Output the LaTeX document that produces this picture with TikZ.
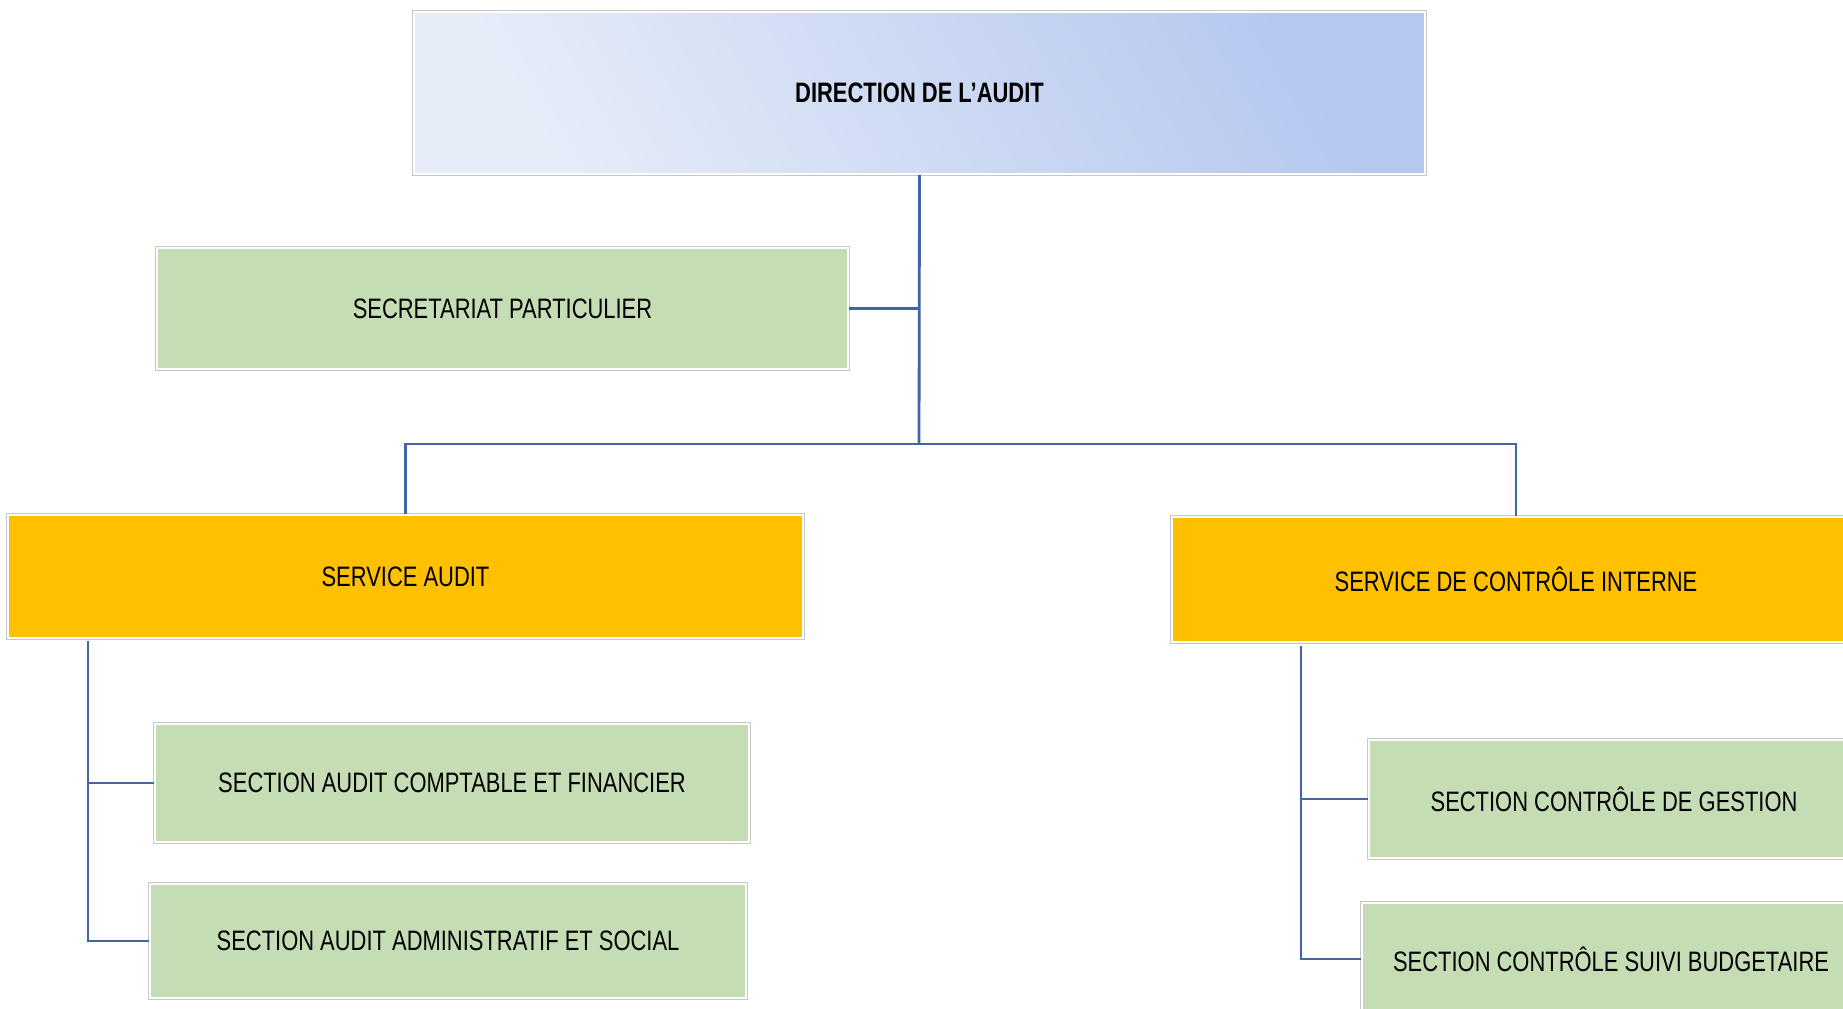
\documentclass[tikz,border=0pt]{standalone}
\usepackage{fontspec}
\newfontfamily\narrowfont[FakeStretch=0.78]{Liberation Sans}
\definecolor{dirlight}{HTML}{E6ECF8}
\definecolor{dirdark}{HTML}{B5C8EF}
\definecolor{secgreen}{HTML}{C5DDB5}
\definecolor{servorange}{HTML}{FFC000}
\definecolor{linkblue}{HTML}{4464A6}
\begin{document}
\begin{tikzpicture}[x=.2mm,y=-.2mm,
  box/.style={rectangle,inner sep=0pt,draw=white,line width=1.1pt,preaction={draw=black!22,line width=2.4pt},font=\narrowfont\fontsize{16}{19}\selectfont,text=black},
  link/.style={draw=linkblue,line width=1.6pt}]
\useasboundingbox (0,0) rectangle (1843,1008);
\clip (0,0) rectangle (1843,1008);
\def\spinel{88};\def\spiner{1301};\def\bary{444};

\coordinate (c_dir) at (919.5,93);
\coordinate (c_sec) at (502.5,308.5);
\coordinate (c_sa) at (405.5,576.5);
\coordinate (c_sci) at (1516,579.5);
\coordinate (c_sa_1) at (452,783);
\coordinate (c_sa_2) at (448,941);
\coordinate (c_sci_1) at (1614,799);
\coordinate (c_sci_2) at (1611,959);

\coordinate (bar) at (919,\bary);
\coordinate (spine_l) at (\spinel,641);
\coordinate (spine_r) at (\spiner,646);

\node[box,left color=dirlight,right color=dirdark,shading angle=120,minimum width=20.22cm,minimum height=3.24cm,font=\narrowfont\bfseries\fontsize{16}{19}\selectfont] (dir) at (c_dir) {DIRECTION DE L’AUDIT};
\node[box,fill=secgreen,minimum width=13.82cm,minimum height=2.42cm] (sec) at (c_sec) {SECRETARIAT  PARTICULIER};
\node[box,fill=servorange,minimum width=15.9cm,minimum height=2.46cm] (sa) at (c_sa) {SERVICE  AUDIT};
\node[box,fill=servorange,minimum width=13.76cm,minimum height=2.5cm] (sci) at (c_sci) {SERVICE  DE CONTRÔLE INTERNE};
\node[box,fill=secgreen,minimum width=11.88cm,minimum height=2.36cm] (sa_1) at (c_sa_1) {SECTION AUDIT  COMPTABLE ET FINANCIER};
\node[box,fill=secgreen,minimum width=11.92cm,minimum height=2.28cm] (sa_2) at (c_sa_2) {SECTION AUDIT  ADMINISTRATIF  ET SOCIAL};
\node[box,fill=secgreen,minimum width=9.8cm,minimum height=2.36cm] (sci_1) at (c_sci_1) {SECTION  CONTRÔLE DE GESTION};
\node[box,fill=secgreen,minimum width=9.96cm,minimum height=2.24cm] (sci_2) at (c_sci_2) {SECTION  CONTRÔLE SUIVI  BUDGETAIRE};

\draw[link] (dir.south) -- (bar);
\draw[link] (sec.east) -- (sec.east -| bar);
\draw[link] (sa.north) |- (bar) -| (sci.north);

\draw[link] (spine_l) |- (sa_2.west);
\draw[link] (spine_l |- sa_1.west) -- (sa_1.west);
\draw[link] (spine_r) |- (sci_2.west);
\draw[link] (spine_r |- sci_1.west) -- (sci_1.west);
\end{tikzpicture}
\end{document}
